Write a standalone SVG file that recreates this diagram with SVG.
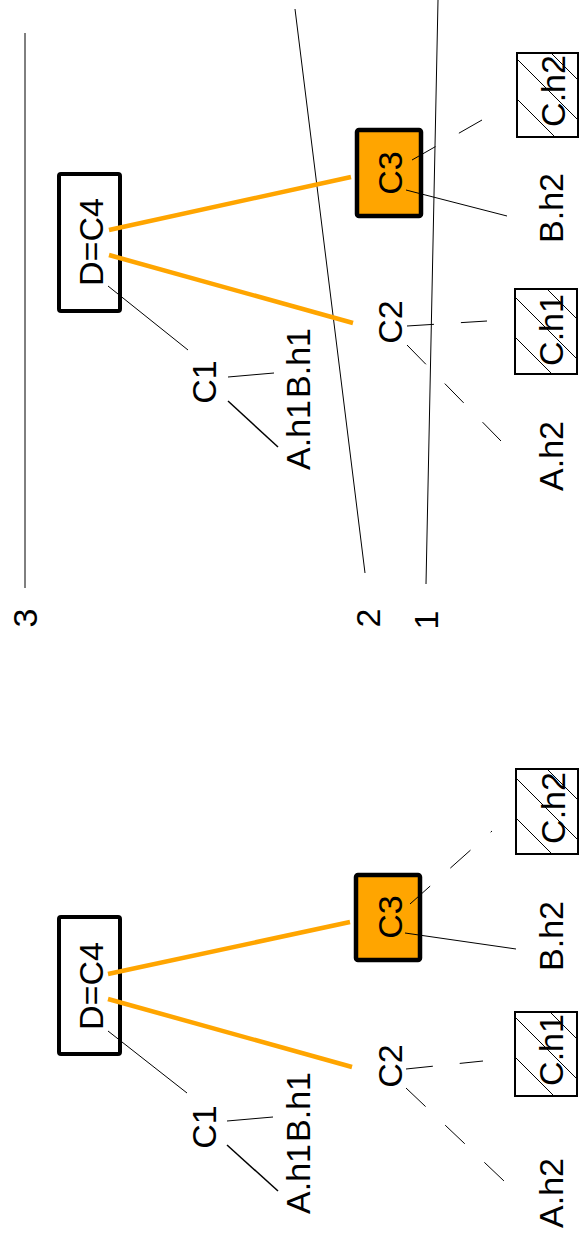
<svg xmlns="http://www.w3.org/2000/svg" width="580" height="1238" viewBox="0 0 580 1238">
  <style>
    .lbl { font-family: "Liberation Sans", Arial, sans-serif; font-size: 34px; fill: #000; text-anchor: middle; }
    .box { fill: #fff; stroke: #000; stroke-width: 4; }
    .hot { fill: #FFA500; stroke: #000; stroke-width: 4.5; }
    .hatched { fill: url(#hatch); stroke: #000; stroke-width: 2; }
    .edge { stroke: #000; stroke-width: 1; fill: none; }
    .edge-bold { stroke: #000; stroke-width: 1.5; fill: none; }
    .dash { stroke: #000; stroke-width: 1; fill: none; stroke-dasharray: 27 27; }
    .path { stroke: #FFA500; stroke-width: 4.5; fill: none; }
    .level { stroke: #000; stroke-width: 1; fill: none; }
  </style>
  <defs>
    <pattern id="hatch" patternUnits="userSpaceOnUse" width="40" height="40" patternTransform="translate(0,22)">
      <rect width="40" height="40" fill="#fff"/>
      <path d="M0,0 L40,40 M-5,35 L5,45 M35,-5 L45,5" stroke="#000" stroke-width="1"/>
    </pattern>
  </defs>

  <!-- level guides with their numbers -->
  <g id="levels">
    <line class="level" x1="25" y1="33" x2="25" y2="588"/>
    <line class="level" x1="295" y1="9" x2="365" y2="573"/>
    <line class="level" x1="438" y1="0" x2="426" y2="584"/>
    <text class="lbl" transform="translate(37,618) rotate(-90)">3</text>
    <text class="lbl" transform="translate(380,618) rotate(-90)">2</text>
    <text class="lbl" transform="translate(438,620) rotate(-90)">1</text>
  </g>

  <!-- upper tree -->
  <g id="top-D">
    <rect class="box" x="59" y="174" width="61" height="137" rx="2"/>
    <text class="lbl" transform="translate(103,242) rotate(-90)">D=C4</text>
  </g>
  <g id="top-C3">
    <rect class="hot" x="357" y="130" width="64" height="86" rx="2"/>
    <text class="lbl" transform="translate(402,173) rotate(-90)">C3</text>
  </g>
  <g id="top-C2">
    <text class="lbl" transform="translate(402,322) rotate(-90)">C2</text>
  </g>
  <g id="top-C1">
    <text class="lbl" transform="translate(216,382) rotate(-90)">C1</text>
  </g>
  <g id="top-Bh1">
    <text class="lbl" transform="translate(310,363) rotate(-90)">B.h1</text>
  </g>
  <g id="top-Ah1">
    <text class="lbl" transform="translate(310,435) rotate(-90)">A.h1</text>
  </g>
  <g id="top-Ah2">
    <text class="lbl" transform="translate(563,456) rotate(-90)">A.h2</text>
  </g>
  <g id="top-Bh2">
    <text class="lbl" transform="translate(563,208) rotate(-90)">B.h2</text>
  </g>
  <g id="top-Ch1">
    <rect class="hatched" x="515" y="289" width="62" height="85"/>
    <text class="lbl" transform="translate(563,330) rotate(-90)">C.h1</text>
  </g>
  <g id="top-Ch2">
    <rect class="hatched" x="517" y="53" width="61" height="84"/>
    <text class="lbl" transform="translate(565,91) rotate(-90)">C.h2</text>
  </g>

  <!-- lower tree -->
  <g id="bottom-D">
    <rect class="box" x="59" y="917" width="61" height="137" rx="2"/>
    <text class="lbl" transform="translate(103,986) rotate(-90)">D=C4</text>
  </g>
  <g id="bottom-C3">
    <rect class="hot" x="356" y="875" width="64" height="85" rx="2"/>
    <text class="lbl" transform="translate(402,917) rotate(-90)">C3</text>
  </g>
  <g id="bottom-C2">
    <text class="lbl" transform="translate(402,1066) rotate(-90)">C2</text>
  </g>
  <g id="bottom-C1">
    <text class="lbl" transform="translate(216,1127) rotate(-90)">C1</text>
  </g>
  <g id="bottom-Bh1">
    <text class="lbl" transform="translate(310,1107) rotate(-90)">B.h1</text>
  </g>
  <g id="bottom-Ah1">
    <text class="lbl" transform="translate(310,1179) rotate(-90)">A.h1</text>
  </g>
  <g id="bottom-Ah2">
    <text class="lbl" transform="translate(563,1193) rotate(-90)">A.h2</text>
  </g>
  <g id="bottom-Bh2">
    <text class="lbl" transform="translate(563,936) rotate(-90)">B.h2</text>
  </g>
  <g id="bottom-Ch1">
    <rect class="hatched" x="515" y="1012" width="62" height="84"/>
    <text class="lbl" transform="translate(563,1050) rotate(-90)">C.h1</text>
  </g>
  <g id="bottom-Ch2">
    <rect class="hatched" x="516" y="769" width="62" height="85"/>
    <text class="lbl" transform="translate(565,808) rotate(-90)">C.h2</text>
  </g>

  <!-- connectors -->
  <g id="connectors">
    <!-- upper tree -->
    <line class="path" x1="109" y1="230" x2="351" y2="177"/>
    <line class="path" x1="109" y1="255" x2="353" y2="323"/>
    <line class="edge" x1="108" y1="286" x2="188" y2="350"/>
    <line class="edge" x1="228" y1="377" x2="274" y2="373"/>
    <line class="edge-bold" x1="228" y1="401" x2="278" y2="447"/>
    <line class="dash" x1="407" y1="326" x2="487" y2="321"/>
    <line class="dash" x1="407" y1="345" x2="501" y2="441"/>
    <line class="dash" x1="412" y1="160" x2="482" y2="120"/>
    <line class="edge" x1="406" y1="190" x2="507" y2="216"/>
    <!-- lower tree -->
    <line class="path" x1="108" y1="974" x2="350" y2="922"/>
    <line class="path" x1="108" y1="999" x2="352" y2="1067"/>
    <line class="edge" x1="108" y1="1031" x2="187" y2="1093"/>
    <line class="edge" x1="227" y1="1121" x2="273" y2="1117"/>
    <line class="edge-bold" x1="227" y1="1145" x2="278" y2="1191"/>
    <line class="dash" x1="406" y1="1069" x2="483" y2="1061"/>
    <line class="dash" x1="406" y1="1088" x2="504" y2="1181"/>
    <line class="dash" x1="410" y1="904" x2="492" y2="831"/>
    <line class="edge" x1="405" y1="933" x2="516" y2="949"/>
  </g>
</svg>
